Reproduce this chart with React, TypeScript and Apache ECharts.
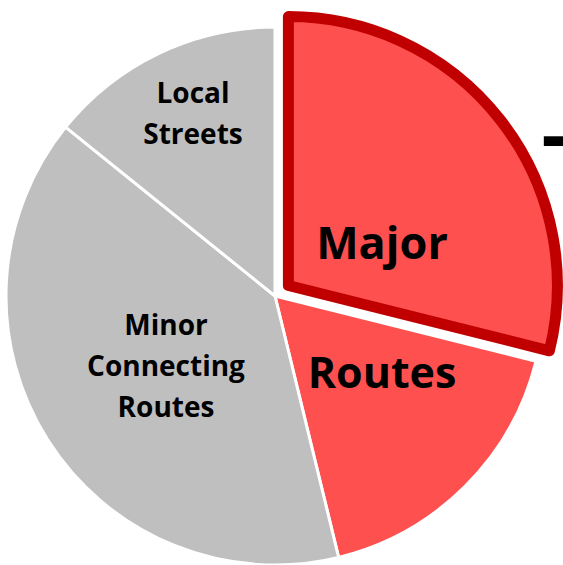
import React, { useEffect, useRef } from "react";
import * as echarts from "echarts";

const categories = ["Major Routes A", "Major Routes B", "Minor Connecting Routes", "Local Streets"];
const values = [28.9, 17.3, 39.6, 14.2];
const fillColors = ["#FF5050", "#FF5050", "#BFBFBF", "#BFBFBF"];
const labelTexts = ["Local\nStreets", "Minor\nConnecting\nRoutes", "Major", "Routes", "-"];

export default function App() {
  const ref = useRef<HTMLDivElement>(null);
  useEffect(() => {
    document.body.style.margin = "0";
    if (!ref.current) return;
    const chart = echarts.init(ref.current, undefined, { renderer: "svg" });
    const fam = "Open Sans";
    const txt = (text: string, x: number, y: number, size: number, lh?: number, align = "center") => ({
      type: "text",
      x,
      y,
      z: 100,
      style: {
        text,
        fontFamily: fam,
        fontWeight: "bold",
        fontSize: size,
        lineHeight: lh || Math.round(size * 1.3),
        fill: "#000000",
        align,
        verticalAlign: "middle",
      },
    });
    const data = categories.map((name, i) => {
      const item: any = {
        name,
        value: values[i],
        itemStyle: {
          color: fillColors[i],
          borderColor: "#FFFFFF",
          borderWidth: 3,
        },
      };
      if (i === 0) {
        item.selected = true;
        item.itemStyle = {
          color: fillColors[i],
          borderColor: "#C00000",
          borderWidth: 11,
          borderJoin: "round",
        };
      }
      return item;
    });
    chart.setOption({
      animation: false,
      backgroundColor: "#FFFFFF",
      tooltip: { show: false },
      series: [
        {
          type: "pie",
          left: 0,
          top: 0,
          right: 0,
          bottom: 0,
          center: [275, 296],
          radius: 269,
          startAngle: 90,
          clockwise: true,
          selectedMode: "single",
          selectedOffset: 17,
          label: { show: false },
          labelLine: { show: false },
          emphasis: { disabled: true },
          data,
        },
      ],
      graphic: [
        txt(labelTexts[0], 193, 112, 28, 41),
        txt(labelTexts[1], 166, 365, 28, 41),
        txt(labelTexts[2], 382, 241, 45),
        txt(labelTexts[3], 382, 371, 43),
        {
          ...txt(labelTexts[4], 540, 132, 80, 90, "left"),
          scaleX: 1.6,
        },
      ],
    });
    return () => chart.dispose();
  }, []);
  return <div ref={ref} style={{ width: 563, height: 565, background: "#fff" }} />;
}
